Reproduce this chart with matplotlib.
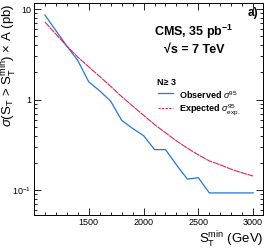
import matplotlib
matplotlib.use("Agg")
import matplotlib.pyplot as plt
from matplotlib.ticker import FixedLocator, FixedFormatter, LogLocator, MultipleLocator, NullFormatter

# Dados (S_T^min em GeV, sigma x A em pb)
st_min = [1100, 1200, 1300, 1400, 1500, 1600, 1700, 1800, 1900, 2000,
          2100, 2200, 2300, 2400, 2500, 2600, 2700, 2800, 2900, 3000]
observed = [8.6, 5.8, 3.9, 2.7, 1.57, 1.25, 0.96, 0.59, 0.48, 0.40,
            0.28, 0.28, 0.19, 0.132, 0.137, 0.093, 0.093, 0.093, 0.093, 0.093]
expected = [7.2, 5.3, 3.9, 2.95, 2.3, 1.8, 1.4, 1.08, 0.85, 0.67,
            0.53, 0.43, 0.35, 0.29, 0.245, 0.21, 0.19, 0.17, 0.155, 0.143]

x_ticks = [1500, 2000, 2500, 3000]
y_ticks = [0.1, 1, 10]
y_tick_labels = [r'$10^{-1}$', '1', '10']

BLUE = '#1f78e0'
RED = '#e0245e'

plt.rcParams['font.family'] = ['Liberation Sans', 'DejaVu Sans']
plt.rcParams['mathtext.fontset'] = 'custom'
plt.rcParams['mathtext.rm'] = 'Liberation Sans'
plt.rcParams['mathtext.it'] = 'Liberation Sans:italic'
plt.rcParams['mathtext.bf'] = 'Liberation Sans:bold'

W, H = 266, 250
fig = plt.figure(figsize=(W / 100, H / 100), dpi=100)
ax = fig.add_axes([34 / W, 1 - 215 / H, (263 - 34) / W, (215 - 3) / H])


def px(x, y):
    """Converte pixels da imagem para coordenadas da figura."""
    return x / W, 1 - y / H


# Curvas
ax.plot(st_min, observed, color=BLUE, lw=0.9)
ax.plot(st_min, expected, color=RED, lw=0.8, dashes=(6, 0.6))

ax.set_yscale('log')
ax.set_xlim(1000, 3090)
ax.set_ylim(0.053, 11.7)

# Eixos estilo ROOT
ax.xaxis.set_major_locator(FixedLocator(x_ticks))
ax.xaxis.set_minor_locator(MultipleLocator(100))
ax.yaxis.set_major_locator(FixedLocator(y_ticks))
ax.yaxis.set_major_formatter(FixedFormatter(y_tick_labels))
ax.yaxis.set_minor_locator(LogLocator(base=10, subs=range(2, 10)))
ax.yaxis.set_minor_formatter(NullFormatter())
ax.tick_params(which='both', direction='in', top=True, right=True,
               width=0.6, labelsize=6.5, pad=2)
ax.tick_params(which='major', length=5)
ax.tick_params(which='minor', length=2.5)
for s in ax.spines.values():
    s.set_linewidth(0.7)

# Rótulos dos eixos
fig.text(*px(9, 3), r'$\sigma$(S$_{\rm T}$ > S$_{\rm T}^{\rm min}$) $\times$ A (pb)',
         rotation=90, ha='center', va='top', fontsize=9.5)
fig.text(*px(263, 240), r'S$_{\rm T}^{\rm min}$ (GeV)', ha='right', va='center', fontsize=9.5)

# Textos
fig.text(*px(258, 13), 'a)', ha='right', va='center', fontsize=8.5, fontweight='bold')
fig.text(*px(194, 32), r'CMS, 35 pb$^{\mathbf{-1}}$', ha='center', va='center',
         fontsize=9, fontweight='bold')
fig.text(*px(194, 50), '\u221As = 7 TeV', ha='center', va='center',
         fontsize=9, fontweight='bold')
fig.text(*px(157, 82.5), 'N\u2265 3', ha='left', va='center', fontsize=6.5, fontweight='bold')

# Legenda manual
fig.add_artist(plt.Line2D([158 / W, 173 / W], [1 - 93 / H] * 2, color=BLUE, lw=0.9))
fig.add_artist(plt.Line2D([158 / W, 173 / W], [1 - 108 / H] * 2, color=RED, lw=0.8, dashes=(2, 1.2)))
fig.text(*px(179, 95), r'Observed $\sigma^{95}$', ha='left', va='center',
         fontsize=6.5, fontweight='bold')
fig.text(*px(179, 110), r'Expected $\sigma^{95}_{\rm exp.}$', ha='left', va='center',
         fontsize=6.5, fontweight='bold')

fig.savefig('out.png', dpi=100)
